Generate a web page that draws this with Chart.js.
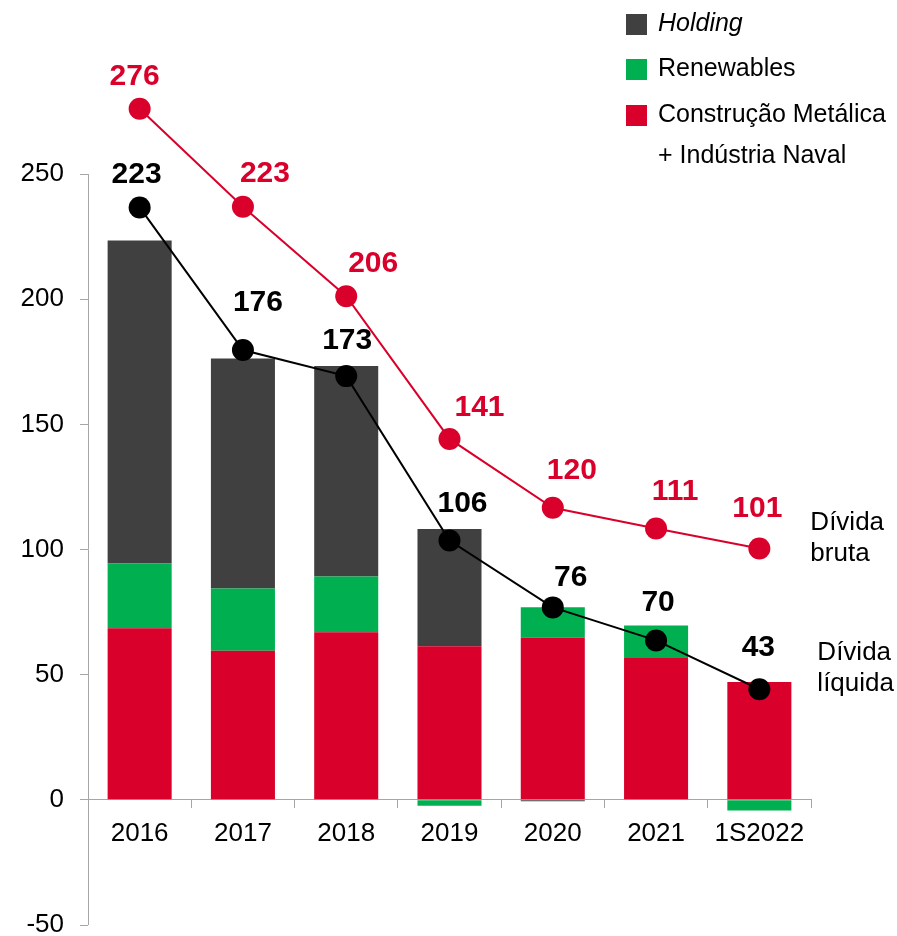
<!DOCTYPE html>
<html>
<head>
<meta charset="utf-8">
<script src="https://cdn.jsdelivr.net/npm/chart.js@4.4.1/dist/chart.umd.min.js"></script>
<style>
  html, body { margin: 0; padding: 0; background: #fff; }
</style>
</head>
<body>
<canvas id="debt-chart" width="897" height="936"></canvas>
<script>
// categories and series
const years = ["2016", "2017", "2018", "2019", "2020", "2021", "1S2022"];
const construcao = [68.6, 59.6, 67.0, 61.4, 64.8, 56.7, 47.1];
const renewables = [25.8, 24.8, 22.2, -2.4, 12.2, 13.0, -4.3];
const holding = [129.1, 91.9, 84.1, 46.8, -0.6, 0, 0];
const dividaBruta = [276.1, 237.0, 201.2, 144.2, 116.7, 108.4, 100.4];
const dividaLiquida = [236.7, 179.7, 169.3, 103.6, 76.9, 63.7, 44.2];
const brutaLabels = [276, 223, 206, 141, 120, 111, 101];
const liquidaLabels = [223, 176, 173, 106, 76, 70, 43];
const yTicks = [-50, 0, 50, 100, 150, 200, 250];

const RED = "#d9002b";
const GREEN = "#00b050";
const GREY = "#404040";
const AXIS = "#a6a6a6";
const FONT = "'Liberation Sans', Arial, sans-serif";

Chart.defaults.font.family = FONT;

function noPadding(scale) {
  scale.paddingTop = 0;
  scale.paddingBottom = 0;
}

// vertical axis line only over the ticked range
const yAxisLine = {
  id: "yAxisLine",
  beforeDatasetsDraw(chart) {
    const y = chart.scales.y;
    const ctx = chart.ctx;
    ctx.save();
    ctx.strokeStyle = AXIS;
    ctx.lineWidth = 1;
    ctx.beginPath();
    ctx.moveTo(y.right + 0.5, y.getPixelForValue(yTicks[yTicks.length - 1]));
    ctx.lineTo(y.right + 0.5, y.getPixelForValue(yTicks[0]));
    ctx.stroke();
    ctx.restore();
  },
};

// value labels next to the line points
const pointLabels = {
  id: "pointLabels",
  afterDatasetsDraw(chart, args, opts) {
    const ctx = chart.ctx;
    ctx.save();
    ctx.textBaseline = "middle";
    opts.sets.forEach(function (s) {
      const meta = chart.getDatasetMeta(s.index);
      ctx.font = "bold 30px " + FONT;
      ctx.textAlign = "center";
      ctx.fillStyle = s.color;
      meta.data.forEach(function (pt, i) {
        ctx.fillText(String(s.labels[i]), pt.x + s.dx[i], pt.y + s.dy[i]);
      });
      // series name at the end of the line
      const last = meta.data[meta.data.length - 1];
      ctx.font = "26px " + FONT;
      ctx.fillStyle = "#000";
      ctx.textAlign = "left";
      s.name.forEach(function (line, j) {
        ctx.fillText(line, last.x + s.nameDx, last.y + s.nameDy + j * 31);
      });
    });
    ctx.restore();
  },
};

// legend box top right
const sideLegend = {
  id: "sideLegend",
  afterDraw(chart) {
    const ctx = chart.ctx;
    const items = [
      { ds: 2, text: ["Holding"], italic: true, y: 24 },
      { ds: 1, text: ["Renewables"], y: 69 },
      { ds: 0, text: ["Construção Metálica", "+ Indústria Naval"], y: 115 },
    ];
    ctx.save();
    ctx.textBaseline = "middle";
    ctx.textAlign = "left";
    items.forEach(function (it) {
      ctx.fillStyle = chart.data.datasets[it.ds].backgroundColor;
      ctx.fillRect(626, it.y - 10, 21, 21);
      ctx.fillStyle = "#000";
      ctx.font = (it.italic ? "italic " : "") + "25px " + FONT;
      it.text.forEach(function (t, j) {
        ctx.fillText(t, 658, it.y + j * 41);
      });
    });
    ctx.restore();
  },
};

const ctx = document.getElementById("debt-chart").getContext("2d");
new Chart(ctx, {
  data: {
    labels: years,
    datasets: [
      { type: "bar", label: "Construção Metálica + Indústria Naval", data: construcao, backgroundColor: RED, order: 2 },
      { type: "bar", label: "Renewables", data: renewables, backgroundColor: GREEN, order: 2 },
      { type: "bar", label: "Holding", data: holding, backgroundColor: GREY, order: 2 },
      {
        type: "line", label: "Dívida bruta", data: dividaBruta, stack: "bruta",
        borderColor: RED, backgroundColor: RED, borderWidth: 2,
        pointRadius: 11, pointBorderWidth: 0, clip: false, order: 1,
      },
      {
        type: "line", label: "Dívida líquida", data: dividaLiquida, stack: "liquida",
        borderColor: "#000", backgroundColor: "#000", borderWidth: 2,
        pointRadius: 11, pointBorderWidth: 0, clip: false, order: 0,
      },
    ],
  },
  options: {
    responsive: false,
    animation: false,
    events: [],
    datasets: { bar: { barPercentage: 0.62, categoryPercentage: 1 } },
    layout: { padding: { top: 74, right: 86, bottom: 8, left: 0 } },
    plugins: {
      legend: { display: false },
      tooltip: { enabled: false },
      pointLabels: {
        sets: [
          {
            index: 3, labels: brutaLabels, color: RED,
            dx: [-5, 22, 27, 30, 19, 19, -2], dy: [-32, -33, -33, -31, -37, -37, -40],
            name: ["Dívida", "bruta"], nameDx: 51, nameDy: -26,
          },
          {
            index: 4, labels: liquidaLabels, color: "#000",
            dx: [-3, 15, 1, 13, 18, 2, -1], dy: [-33, -47, -35, -37, -30, -38, -41],
            name: ["Dívida", "líquida"], nameDx: 58, nameDy: -36,
          },
        ],
      },
    },
    scales: {
      x: {
        stacked: true,
        position: { y: 0 },
        offset: true,
        afterFit(scale) { scale.height = 0; noPadding(scale); },
        grid: { offset: true, drawOnChartArea: false, tickLength: 8, color: AXIS },
        border: { color: AXIS },
        ticks: { color: "#000", font: { size: 26 }, padding: 10 },
      },
      y: {
        stacked: true,
        min: -50,
        max: 290,
        afterFit(scale) { scale.width = 88; noPadding(scale); },
        afterBuildTicks(scale) { scale.ticks = yTicks.map(function (v) { return { value: v }; }); },
        grid: { drawOnChartArea: false, tickLength: 8, color: AXIS },
        border: { display: false },
        ticks: { color: "#000", font: { size: 26 }, padding: 16 },
      },
    },
  },
  plugins: [yAxisLine, pointLabels, sideLegend],
});
</script>
</body>
</html>
